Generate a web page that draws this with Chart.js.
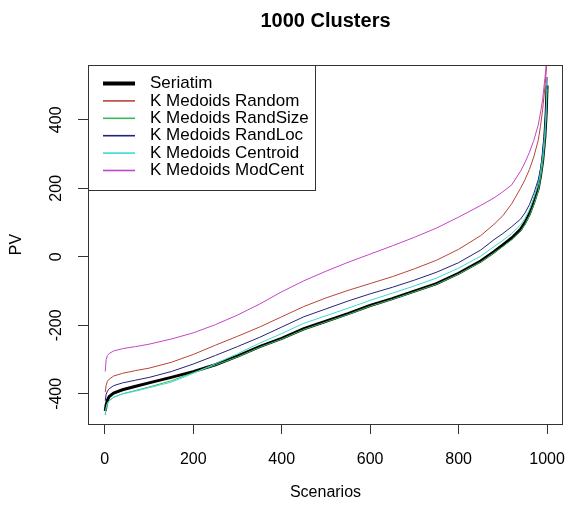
<!DOCTYPE html>
<html>
<head>
<meta charset="utf-8">
<script src="https://cdn.jsdelivr.net/npm/chart.js@4.4.1/dist/chart.umd.min.js"></script>
<style>
html, body { margin: 0; padding: 0; background: #fff; }
</style>
</head>
<body>
<canvas id="myChart" width="566" height="513"></canvas>
<script>
const scenarios = [1, 3, 6, 10, 20, 40, 70, 100, 150, 200, 250, 300, 350, 400, 450, 500, 550, 600, 650, 700, 750, 800, 850, 880, 900, 920, 940, 950, 960, 970, 980, 985, 990, 995, 998, 1000]
const seriatim = [-450, -432, -418, -408, -398, -388, -378, -368, -352, -335, -315, -290, -262, -238, -210, -188, -166, -142, -122, -100, -78, -48, -12, 15, 35, 55, 80, 100, 125, 160, 200, 235, 280, 350, 420, 500]
const kmRandom = [-395, -375, -363, -357, -348, -340, -332, -325, -308, -285, -258, -232, -205, -175, -145, -120, -98, -78, -58, -35, -10, 22, 62, 95, 120, 155, 200, 225, 255, 292, 340, 380, 430, 495, 540, 580]
const kmRandSize = [-462, -442, -428, -420, -410, -400, -390, -380, -362, -338, -316, -292, -264, -240, -212, -190, -168, -144, -124, -102, -80, -50, -15, 12, 30, 50, 75, 95, 120, 152, 192, 228, 272, 340, 410, 490]
const kmRandLoc = [-420, -402, -392, -385, -376, -368, -360, -352, -335, -313, -288, -262, -235, -205, -175, -152, -129, -108, -89, -68, -45, -17, 20, 50, 68, 88, 110, 128, 152, 185, 225, 255, 300, 375, 445, 525]
const kmCentroid = [-458, -440, -427, -420, -410, -400, -392, -382, -366, -340, -312, -283, -252, -224, -194, -172, -150, -127, -106, -85, -62, -33, 2, 30, 48, 68, 93, 112, 137, 172, 212, 245, 290, 360, 430, 510]
const kmModCent = [-335, -300, -288, -282, -275, -268, -262, -255, -240, -222, -198, -170, -138, -102, -70, -42, -16, 8, 32, 57, 84, 116, 150, 172, 190, 210, 250, 275, 305, 340, 385, 420, 460, 520, 560, 600]
const seriesNames = ['Seriatim', 'K Medoids Random', 'K Medoids RandSize', 'K Medoids RandLoc', 'K Medoids Centroid', 'K Medoids ModCent']
const seriesColors = ['#000000', '#b8433a', '#3cb85c', '#22227e', '#3fd9d2', '#c544c9']
const seriesWidths = [3, 1, 1, 1, 1, 1]
const xTicks = [0, 200, 400, 600, 800, 1000]
const yTicks = [-400, -200, 0, 200, 400]

const allSeries = [seriatim, kmRandom, kmRandSize, kmRandLoc, kmCentroid, kmModCent]
const datasets = []
for (let i = 0; i < allSeries.length; i++) {
  datasets.push({
    label: seriesNames[i],
    data: allSeries[i].map((v, j) => ({x: scenarios[j], y: v})),
    borderColor: seriesColors[i],
    borderWidth: seriesWidths[i],
    pointRadius: 0,
    tension: 0,
    fill: false,
    order: allSeries.length - i   // first series underneath, like lines() in R
  })
}
const font = 'Liberation Sans, Arial, sans-serif'

// R-style box, title and legend
const rBits = {
  id: 'rBits',
  afterDatasetsDraw(chart) {
    const {ctx, chartArea} = chart
    const l = chartArea.left, t = chartArea.top
    ctx.save()
    ctx.strokeStyle = '#333'
    ctx.lineWidth = 1
    ctx.strokeRect(l + 0.5, t + 0.5, chartArea.right - l - 1, chartArea.bottom - t)
    // legend
    ctx.fillStyle = '#fff'
    ctx.fillRect(l, t, 227, 125)
    ctx.strokeRect(l + 0.5, t + 0.5, 227, 125)
    ctx.font = '17px ' + font
    ctx.textBaseline = 'middle'
    for (let i = 0; i < seriesNames.length; i++) {
      const y = t + 18.5 + i * 17.4
      ctx.strokeStyle = seriesColors[i]
      ctx.lineWidth = i == 0 ? 4 : 1.6
      ctx.beginPath()
      ctx.moveTo(l + 15, y)
      ctx.lineTo(l + 47, y)
      ctx.stroke()
      ctx.fillStyle = '#000'
      ctx.fillText(seriesNames[i], l + 62, y)
    }
    // title
    ctx.font = 'bold 20px ' + font
    ctx.textAlign = 'center'
    ctx.fillText('1000 Clusters', (chartArea.left + chartArea.right) / 2, 21)
    ctx.restore()
  }
}

new Chart(document.getElementById('myChart'), {
  type: 'line',
  data: {datasets: datasets},
  plugins: [rBits],
  options: {
    responsive: false,
    animation: false,
    layout: {padding: {top: 65, right: 3, left: 0, bottom: 0}},
    plugins: {legend: {display: false}, tooltip: {enabled: false}},
    scales: {
      x: {
        type: 'linear',
        min: -38,
        max: 1036,
        afterFit: (s) => { s.height = 89; s.paddingLeft = 0; s.paddingRight = 0 },
        afterBuildTicks: (s) => { s.ticks = xTicks.map(v => ({value: v})) },
        ticks: {color: '#000', font: {size: 16, family: font}, padding: 16, maxRotation: 0, callback: (v) => String(v)},
        grid: {drawOnChartArea: false, tickLength: 10, color: '#333'},
        border: {display: false},
        title: {display: true, text: 'Scenarios', color: '#000', font: {size: 16, family: font}, padding: {top: 0, bottom: 11}}
      },
      y: {
        min: -488,
        max: 560,
        afterFit: (s) => { s.width = 88; s.paddingTop = 0; s.paddingBottom = 0 },
        afterBuildTicks: (s) => { s.ticks = yTicks.map(v => ({value: v})) },
        ticks: {color: '#000', font: {size: 16, family: font}, padding: 5, minRotation: 90, maxRotation: 90, crossAlign: 'center', callback: (v) => String(v)},
        grid: {drawOnChartArea: false, tickLength: 10, color: '#333'},
        border: {display: false},
        title: {display: true, text: 'PV', color: '#000', font: {size: 16, family: font}, padding: {top: 7, bottom: 0}}
      }
    }
  }
});
</script>
</body>
</html>
